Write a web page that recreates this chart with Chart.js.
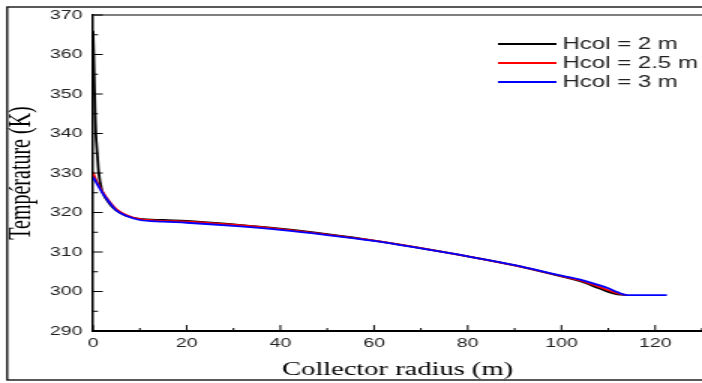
<!DOCTYPE html>
<html>
<head>
<meta charset="utf-8">
<script src="https://cdn.jsdelivr.net/npm/chart.js@4"></script>
<style>
    body { margin: 0; background: #ffffff; }
</style>
</head>
<body>
<!-- the source figure is stretched sideways, so draw narrow and widen with css -->
<canvas id="temp-chart" width="468" height="383" style="width:702px;height:383px"></canvas>
<script>
// Temperature along the collector radius for 3 collector heights
const seriesLabels = ['Hcol = 2 m', 'Hcol = 2.5 m', 'Hcol = 3 m'];
const seriesColors = ['#000000', '#ff0000', '#0000ff'];

const radius2 = [0, 0.15, 0.3, 0.45, 0.6, 0.9, 1.2, 1.85, 2.5, 3.3, 4.3, 5.4, 7, 10, 15, 20, 30, 40, 50, 60, 70, 80, 90, 100, 104, 108, 110, 112, 114];
const temp2 = [366, 360, 352, 345, 340, 335, 330.3, 325.8, 324.0, 322.6, 321.2, 320.2, 319.2, 318.4, 318.1, 317.9, 317.0, 315.9, 314.5, 312.9, 311.0, 308.9, 306.6, 303.8, 302.6, 300.8, 299.9, 299.3, 299.1];

const radius25 = [0, 0.5, 1, 2, 3.6, 5, 7.2, 10, 15, 20, 30, 40, 50, 60, 70, 80, 90, 100, 104, 108, 110, 112, 114];
const temp25 = [330.2, 328.6, 327.3, 325.3, 322.6, 320.8, 319.3, 318.3, 317.9, 317.7, 316.9, 315.8, 314.4, 312.9, 311.0, 308.9, 306.6, 303.9, 302.8, 301.2, 300.3, 299.5, 299.1];

const radius3 = [0, 0.4, 1, 2, 3.6, 5, 7.2, 10, 15, 20, 30, 40, 50, 60, 70, 80, 90, 100, 104, 108, 110, 112, 114, 118, 122.5];
const temp3 = [329.0, 328.2, 327.0, 325.0, 322.4, 320.5, 319.1, 318.1, 317.7, 317.4, 316.6, 315.6, 314.3, 312.8, 310.9, 308.9, 306.7, 304.0, 303.0, 301.6, 300.8, 299.8, 299.1, 299.1, 299.1];

const xTickValues = [0, 20, 40, 60, 80, 100, 120];
const xMinorValues = [10, 30, 50, 70, 90, 110, 130];
const yTickValues = [290, 300, 310, 320, 330, 340, 350, 360, 370];
const yMinorValues = [295, 305, 315, 325, 335, 345, 355, 365];

function toPoints(xs, ys){
    let pts = [];
    for(let i=0; i<xs.length; i++){
        pts.push({x: xs[i], y: ys[i]});
    }
    return pts;
}

const radii = [radius2, radius25, radius3];
const temps = [temp2, temp25, temp3];
let datasets = [];
for(let i=0; i<3; i++){
    datasets.push({
        label: seriesLabels[i],
        data: toPoints(radii[i], temps[i]),
        borderColor: seriesColors[i],
        borderWidth: 1.8,
        pointRadius: 0,
        cubicInterpolationMode: 'monotone',
        order: 2 - i   // blue on top
    });
}

// white page + outer frame
const framePlugin = {
    id: 'frame',
    beforeDraw(chart){
        const ctx = chart.ctx;
        ctx.save();
        ctx.fillStyle = '#ffffff';
        ctx.fillRect(0, 0, chart.width, chart.height);
        ctx.strokeStyle = '#000000';
        ctx.lineWidth = 1.3;
        ctx.strokeRect(4.8, 7, chart.width + 10, 373);
        ctx.restore();
    }
};

// inward major/minor ticks and the top border of the plot box
const tickPlugin = {
    id: 'inTicks',
    afterDraw(chart){
        const ctx = chart.ctx;
        const area = chart.chartArea;
        const xs = chart.scales.x;
        const ys = chart.scales.y;
        ctx.save();
        ctx.strokeStyle = '#555555';
        ctx.lineWidth = 1.5;
        ctx.beginPath();
        ctx.moveTo(area.left, area.top);
        ctx.lineTo(area.right + 5, area.top);
        ctx.stroke();

        ctx.strokeStyle = '#000000';
        ctx.lineWidth = 1;
        ctx.beginPath();
        xTickValues.forEach(v => { let p = xs.getPixelForValue(v); ctx.moveTo(p, area.bottom); ctx.lineTo(p, area.bottom - 6); });
        xMinorValues.forEach(v => { let p = xs.getPixelForValue(v); ctx.moveTo(p, area.bottom); ctx.lineTo(p, area.bottom - 3); });
        yTickValues.forEach(v => { let p = ys.getPixelForValue(v); ctx.moveTo(area.left, p); ctx.lineTo(area.left + 6.5, p); });
        yMinorValues.forEach(v => { let p = ys.getPixelForValue(v); ctx.moveTo(area.left, p); ctx.lineTo(area.left + 3.3, p); });
        ctx.stroke();
        ctx.restore();
    }
};

// legend drawn inside the plot, top right
const legendPlugin = {
    id: 'inLegend',
    afterDraw(chart){
        const ctx = chart.ctx;
        const rows = [44, 63, 82];
        ctx.save();
        ctx.font = '16px "Liberation Sans", Arial, sans-serif';
        ctx.textBaseline = 'middle';
        ctx.textAlign = 'left';
        chart.data.datasets.forEach((ds, i) => {
            ctx.strokeStyle = ds.borderColor;
            ctx.lineWidth = 2;
            ctx.beginPath();
            ctx.moveTo(332, rows[i]);
            ctx.lineTo(371, rows[i]);
            ctx.stroke();
            ctx.fillStyle = '#222222';
            ctx.fillText(ds.label, 375, rows[i] + 1);
        });
        ctx.restore();
    }
};

const tempCanvas = document.getElementById('temp-chart');
const tempChart = new Chart(tempCanvas, {
    type: 'line',
    data: { datasets: datasets },
    plugins: [framePlugin, tickPlugin, legendPlugin],
    options: {
        responsive: false,
        devicePixelRatio: 1,
        animation: false,
        layout: { padding: { top: 15, left: 0, right: 0, bottom: 0 } },
        plugins: {
            legend: { display: false },
            tooltip: { enabled: false }
        },
        scales: {
            x: {
                type: 'linear',
                min: 0,
                max: 130,
                afterBuildTicks: (scale) => { scale.ticks = xTickValues.map(v => ({value: v})); },
                afterFit: (scale) => { scale.height = 52; },
                grid: { display: false, drawTicks: false },
                border: { display: true, color: '#000000', width: 2 },
                ticks: {
                    padding: 5,
                    maxRotation: 0,
                    color: '#222222',
                    font: { family: '"Liberation Sans", Arial, sans-serif', size: 13 }
                },
                title: {
                    display: true,
                    text: 'Collector radius (m)',
                    color: '#000000',
                    padding: { top: 0, bottom: 2 },
                    font: { family: '"Liberation Serif", "Times New Roman", serif', size: 19 }
                }
            },
            y: {
                min: 290,
                max: 370,
                afterBuildTicks: (scale) => { scale.ticks = yTickValues.map(v => ({value: v})); },
                afterFit: (scale) => { scale.width = 62; },
                grid: { display: false, drawTicks: false },
                border: { display: true, color: '#000000', width: 1.5 },
                ticks: {
                    padding: 7,
                    color: '#222222',
                    font: { family: '"Liberation Sans", Arial, sans-serif', size: 13 }
                },
                title: {
                    display: true,
                    text: 'Température (K)',
                    color: '#000000',
                    padding: { top: 3, bottom: 0 },
                    font: { family: '"Liberation Serif", "Times New Roman", serif', size: 20 }
                }
            }
        }
    }
});
</script>
</body>
</html>
